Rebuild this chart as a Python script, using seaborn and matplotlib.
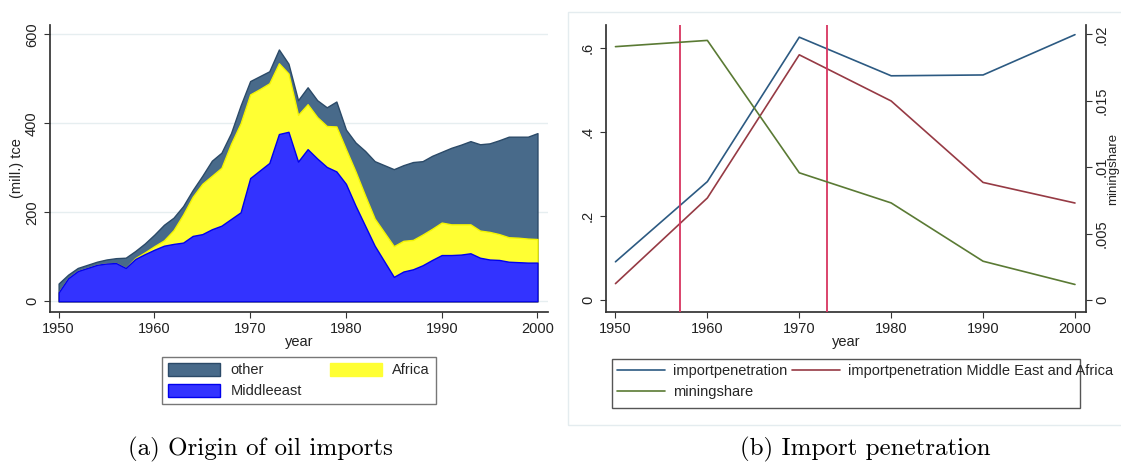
import numpy as np
import matplotlib
matplotlib.use("Agg")
import matplotlib.pyplot as plt
from matplotlib.patches import Patch, Rectangle
from matplotlib.lines import Line2D
import seaborn as sns

# ---------------- data: panel (a) ----------------
years = list(range(1950, 2001))
middleeast = [20, 52, 68, 75, 82, 85, 86, 75, 95, 106,
              116, 125, 129, 132, 147, 151, 162, 170, 185, 200,
              277, 294, 311, 376, 381, 314, 342, 321, 302, 292,
              264, 215, 170, 125, 90, 55, 67, 72, 81, 93,
              104, 104, 105, 108, 98, 94, 93, 89, 88, 87, 87]
africa = [0, 0, 0, 0, 0, 0, 0, 0, 2, 4,
          8, 12, 31, 63, 88, 113, 120, 130, 169, 200,
          188, 183, 179, 159, 131, 105, 101, 93, 92, 101,
          78, 77, 68, 61, 65, 69, 69, 66, 69, 70,
          73, 69, 68, 65, 61, 62, 58, 55, 55, 54, 53]
other = [20, 8, 7, 7, 7, 9, 11, 23, 16, 20,
         26, 35, 28, 19, 15, 18, 34, 34, 24, 40,
         30, 29, 27, 31, 22, 33, 38, 38, 42, 56,
         44, 65, 100, 129, 151, 173, 170, 175, 165, 164,
         159, 172, 179, 187, 194, 199, 211, 226, 227, 229, 238]

# ---------------- data: panel (b) ----------------
decades = [1950, 1960, 1970, 1980, 1990, 2000]
importpenetration = [0.091, 0.282, 0.626, 0.534, 0.536, 0.632]
importpenetration_mea = [0.039, 0.243, 0.584, 0.474, 0.280, 0.231]
miningshare = [0.01908, 0.01955, 0.00958, 0.00731, 0.00292, 0.00117]
event_years = [1957, 1973]

xticks = [1950, 1960, 1970, 1980, 1990, 2000]
yticks_a = [0, 200, 400, 600]
yticks_b = [0, 0.2, 0.4, 0.6]
yticklabels_b = ["0", ".2", ".4", ".6"]
yticks_c = [0, 0.005, 0.01, 0.015, 0.02]
yticklabels_c = ["0", ".005", ".01", ".015", ".02"]

# ---------------- style ----------------
FS = 10.5
sns.set_theme(style="ticks")
plt.rcParams['font.family'] = ['Liberation Sans', 'DejaVu Sans']
plt.rcParams['font.size'] = FS
plt.rcParams['axes.edgecolor'] = '#333333'
plt.rcParams['xtick.color'] = '#333333'
plt.rcParams['ytick.color'] = '#333333'

W, H = 1121, 462
fig = plt.figure(figsize=(W / 100, H / 100), dpi=100)

def fx(px):
    return px / W

def fy(py):
    return 1 - py / H

C_OTHER, E_OTHER = '#486a8a', '#2b4a68'
C_AFR, E_AFR = '#ffff33', '#f5f500'
C_ME, E_ME = '#3333ff', '#0000ee'
TXT = '#222222'

# ---------------- panel (a) ----------------
ax1 = fig.add_axes([fx(50), fy(312), fx(548) - fx(50), fy(25) - fy(312)])
me = np.array(middleeast, dtype=float)
af = np.array(africa, dtype=float)
ot = np.array(other, dtype=float)
cum_af = me + af
total = cum_af + ot
ax1.fill_between(years, 0, total, facecolor=C_OTHER, edgecolor=E_OTHER, lw=1.0, zorder=2)
ax1.fill_between(years, 0, cum_af, facecolor=C_AFR, edgecolor=E_AFR, lw=1.0, zorder=3)
ax1.fill_between(years, 0, me, facecolor=C_ME, edgecolor=E_ME, lw=1.0, zorder=4)

ax1.set_xlim(1949.1, 2001.1)
ax1.set_ylim(-24, 621)
ax1.set_xticks(xticks)
ax1.set_yticks(yticks_a)
ax1.yaxis.grid(True, color='#e6eef0', lw=1.0)
ax1.set_axisbelow(True)
sns.despine(ax=ax1)
ax1.tick_params(axis='both', length=4, width=0.8, labelsize=FS, pad=3, labelcolor=TXT)
ax1.tick_params(axis='y', labelrotation=90, pad=4)
for t in ax1.get_yticklabels():
    t.set_va('center')
ax1.set_xlabel('year', fontsize=FS, color=TXT)
ax1.xaxis.set_label_coords(0.5, -0.08)
ax1.set_ylabel('(mill.) tce', fontsize=FS, color=TXT)
ax1.yaxis.set_label_coords(-0.052, 0.5)

leg_handles_a = [Patch(facecolor=C_OTHER, edgecolor=E_OTHER, lw=1.0, label='other'),
                 Patch(facecolor=C_ME, edgecolor=E_ME, lw=1.0, label='Middleeast'),
                 Patch(facecolor=C_AFR, edgecolor=C_AFR, lw=1.0, label='Africa')]
leg_a = fig.legend(handles=leg_handles_a, ncol=2, loc='upper center',
                   bbox_to_anchor=(fx(299), fy(357)), frameon=True, fancybox=False,
                   edgecolor='#555555', handlelength=3.6, handleheight=1.0,
                   handletextpad=0.7, columnspacing=1.9, borderpad=0.4,
                   labelspacing=0.45, borderaxespad=0, fontsize=FS)
leg_a.get_frame().set_linewidth(1.0)

# ---------------- panel (b) ----------------
fig.patches.append(Rectangle((fx(568), fy(425)), fx(1130) - fx(568), fy(12) - fy(425),
                             transform=fig.transFigure, fill=False,
                             edgecolor='#e4ecef', lw=1.0, zorder=0))

C_IP, C_MEA, C_MIN, C_VL = '#2c5a82', '#963a44', '#5a7a34', '#d83560'
ax2 = fig.add_axes([fx(606), fy(312), fx(1086) - fx(606), fy(25) - fy(312)])
ax2.patch.set_alpha(0)
sns.lineplot(x=decades, y=importpenetration, ax=ax2, color=C_IP, lw=1.2)
sns.lineplot(x=decades, y=importpenetration_mea, ax=ax2, color=C_MEA, lw=1.2)
for yr in event_years:
    ax2.axvline(yr, color=C_VL, lw=1.3, zorder=5)
ax2.set_xlim(1948.97, 2001.2)
ax2.set_ylim(-0.0286, 0.655)
ax2.set_xticks(xticks)
ax2.set_yticks(yticks_b)
ax2.set_yticklabels(yticklabels_b)

ax3 = ax2.twinx()
sns.lineplot(x=decades, y=miningshare, ax=ax3, color=C_MIN, lw=1.2)
ax3.set_ylim(-0.000904, 0.02071)
ax3.set_yticks(yticks_c)
ax3.set_yticklabels(yticklabels_c)

for a in (ax2, ax3):
    a.spines['top'].set_visible(False)
ax2.spines['right'].set_visible(False)
ax3.spines['left'].set_visible(False)
ax3.spines['bottom'].set_visible(False)

ax2.tick_params(axis='both', length=4, width=0.8, labelsize=FS, pad=3, labelcolor=TXT)
ax2.tick_params(axis='y', labelrotation=90, pad=4)
ax3.tick_params(axis='y', length=4, width=0.8, labelsize=FS, pad=2.5,
                labelrotation=90, labelcolor=TXT)
for t in ax2.get_yticklabels() + ax3.get_yticklabels():
    t.set_va('center')
ax2.set_xlabel('year', fontsize=FS, color=TXT)
ax2.xaxis.set_label_coords(0.5, -0.08)
ax2.set_ylabel('')
ax3.set_ylabel('miningshare', fontsize=9.5, color=TXT)
ax3.yaxis.set_label_coords((1107 - 606) / 480, 0.5)

leg_handles_b = [Line2D([], [], color=C_IP, lw=1.2, label='importpenetration'),
                 Line2D([], [], color=C_MIN, lw=1.2, label='miningshare'),
                 Line2D([], [], color=C_MEA, lw=1.2,
                        label='importpenetration Middle East and Africa')]
leg_b = fig.legend(handles=leg_handles_b, ncol=2, loc='upper left',
                   bbox_to_anchor=(fx(612), fy(359)), frameon=False,
                   handlelength=3.3, handletextpad=0.55, columnspacing=0.3,
                   borderpad=0.35, labelspacing=0.45, borderaxespad=0, fontsize=FS)
fig.patches.append(Rectangle((fx(612), fy(408)), fx(1080) - fx(612), fy(359) - fy(408),
                             transform=fig.transFigure, fill=False,
                             edgecolor='#555555', lw=1.0, zorder=1))

# ---------------- captions ----------------
fig.text(fx(260), fy(449), '(a) Origin of oil imports', family='cmr10',
         fontsize=18, ha='center', va='center', color='black')
fig.text(fx(865), fy(449), '(b) Import penetration', family='cmr10',
         fontsize=18, ha='center', va='center', color='black')

fig.savefig('out.png', dpi=100)
